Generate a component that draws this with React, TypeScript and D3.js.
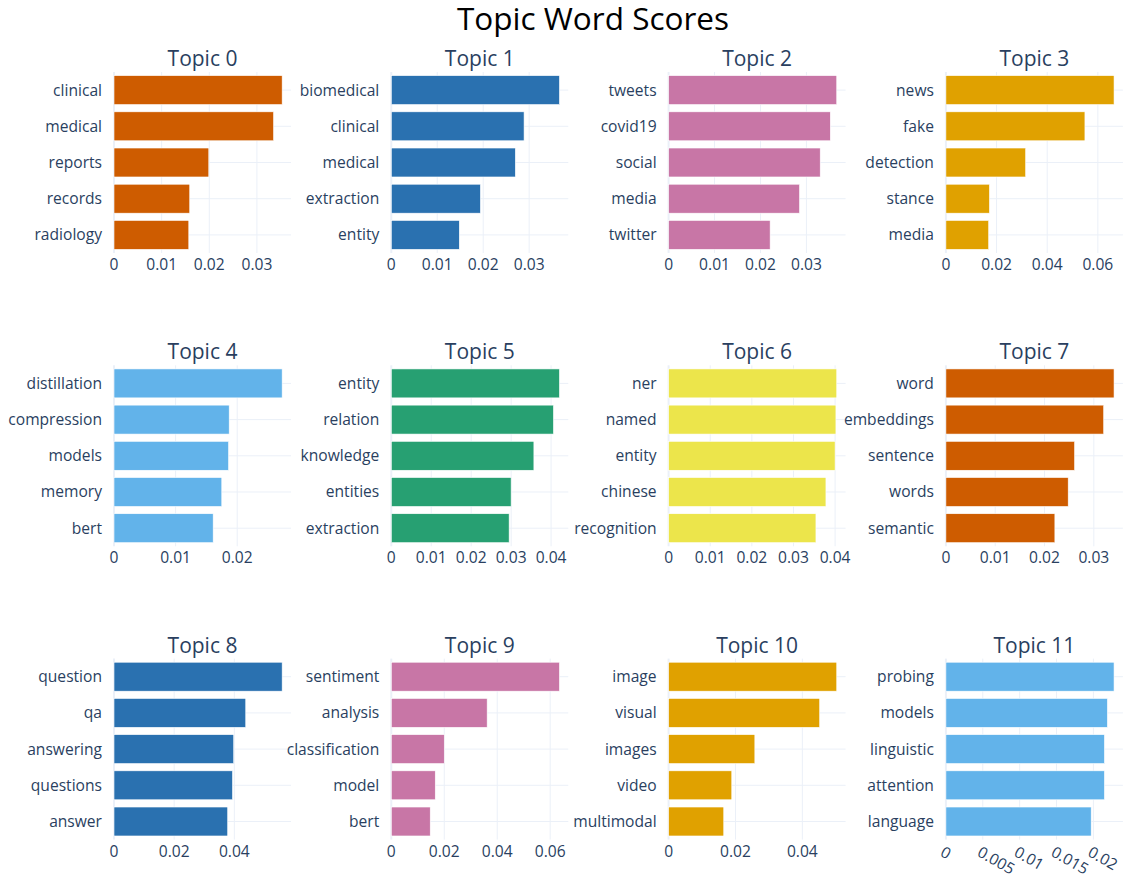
import React, { useEffect, useRef } from 'react';
import * as d3 from 'd3';

const topics = ['Topic 0', 'Topic 1', 'Topic 2', 'Topic 3', 'Topic 4', 'Topic 5',
  'Topic 6', 'Topic 7', 'Topic 8', 'Topic 9', 'Topic 10', 'Topic 11'];

// words per topic, top bar first
const words = [
  ['clinical', 'medical', 'reports', 'records', 'radiology'],
  ['biomedical', 'clinical', 'medical', 'extraction', 'entity'],
  ['tweets', 'covid19', 'social', 'media', 'twitter'],
  ['news', 'fake', 'detection', 'stance', 'media'],
  ['distillation', 'compression', 'models', 'memory', 'bert'],
  ['entity', 'relation', 'knowledge', 'entities', 'extraction'],
  ['ner', 'named', 'entity', 'chinese', 'recognition'],
  ['word', 'embeddings', 'sentence', 'words', 'semantic'],
  ['question', 'qa', 'answering', 'questions', 'answer'],
  ['sentiment', 'analysis', 'classification', 'model', 'bert'],
  ['image', 'visual', 'images', 'video', 'multimodal'],
  ['probing', 'models', 'linguistic', 'attention', 'language'],
];

const scores = [
  [0.0353, 0.0335, 0.0199, 0.0159, 0.0157],
  [0.0366, 0.0289, 0.0270, 0.0194, 0.0148],
  [0.0366, 0.0352, 0.0330, 0.0285, 0.0221],
  [0.0664, 0.0549, 0.0315, 0.0172, 0.0169],
  [0.0273, 0.0187, 0.0186, 0.0175, 0.0161],
  [0.0421, 0.0406, 0.0357, 0.0300, 0.0295],
  [0.0404, 0.0402, 0.0400, 0.0378, 0.0354],
  [0.0341, 0.0320, 0.0261, 0.0248, 0.0221],
  [0.0559, 0.0438, 0.0398, 0.0394, 0.0378],
  [0.0635, 0.0362, 0.0200, 0.0166, 0.0147],
  [0.0503, 0.0452, 0.0258, 0.0189, 0.0165],
  [0.0228, 0.0219, 0.0215, 0.0215, 0.0197],
];

const tickSteps = [0.01, 0.01, 0.01, 0.02, 0.01, 0.01, 0.01, 0.01, 0.02, 0.02, 0.02, 0.005];

const palette = ['#CE5C00', '#2A71B0', '#C876A6', '#E0A100', '#62B3EA', '#27A072', '#ECE54B'];

const W = 1123;
const H = 876;
const left0 = 114;
const colStep = 277.3;
const top0 = 72;
const rowStep = 293.3;
const plotW = 177;
const plotH = 181;
const FONT = '"Open Sans", verdana, arial, sans-serif';
const TEXT = '#2a3f5f';
const GRID = '#EBF0F8';

export default function App() {
  const ref = useRef<SVGSVGElement>(null);

  useEffect(() => {
    const svg = d3.select(ref.current);
    svg.selectAll('*').remove();

    svg.append('rect').attr('width', W).attr('height', H).attr('fill', '#fff');

    svg.append('text')
      .attr('x', 593)
      .attr('y', 30)
      .attr('text-anchor', 'middle')
      .attr('font-family', FONT)
      .attr('font-size', 31.5)
      .attr('fill', '#000')
      .text('Topic Word Scores');

    topics.forEach((name, t) => {
      const col = t % 4;
      const row = Math.floor(t / 4);
      const x0 = left0 + col * colStep;
      const y0 = top0 + row * rowStep;
      const vals = scores[t];
      const maxV = d3.max(vals) as number;

      const x = d3.scaleLinear().domain([0, maxV * 1.0526]).range([0, plotW]);
      const y = d3.scaleBand<string>()
        .domain(words[t])
        .range([0, plotH])
        .paddingInner(0.2)
        .paddingOuter(0.1);

      const g = svg.append('g').attr('transform', `translate(${x0},${y0})`);

      const step = tickSteps[t];
      const ticks = d3.range(0, maxV * 1.0526 + 1e-9, step);
      const fmt = d3.format('~g');

      // horizontal grid at categories
      g.selectAll('line.hgrid')
        .data(words[t])
        .enter()
        .append('line')
        .attr('x1', 0)
        .attr('x2', plotW)
        .attr('y1', (d) => (y(d) as number) + y.bandwidth() / 2)
        .attr('y2', (d) => (y(d) as number) + y.bandwidth() / 2)
        .attr('stroke', GRID)
        .attr('stroke-width', 1);

      // vertical grid
      g.selectAll('line.vgrid')
        .data(ticks)
        .enter()
        .append('line')
        .attr('x1', (d) => x(d))
        .attr('x2', (d) => x(d))
        .attr('y1', 0)
        .attr('y2', plotH)
        .attr('stroke', GRID)
        .attr('stroke-width', (d, i) => (i === 0 ? 2 : 1));

      g.selectAll('rect.bar')
        .data(vals)
        .enter()
        .append('rect')
        .attr('x', x(0))
        .attr('y', (d, i) => y(words[t][i]) as number)
        .attr('width', (d) => x(d) - x(0))
        .attr('height', y.bandwidth())
        .attr('fill', palette[t % palette.length])
        .attr('stroke', '#fff')
        .attr('stroke-width', 0.6);

      // y labels
      g.selectAll('text.ylab')
        .data(words[t])
        .enter()
        .append('text')
        .attr('x', -12)
        .attr('y', (d) => (y(d) as number) + y.bandwidth() / 2)
        .attr('dy', '0.35em')
        .attr('text-anchor', 'end')
        .attr('font-family', FONT)
        .attr('font-size', 15.6)
        .attr('fill', TEXT)
        .text((d) => d);

      // x labels
      const rotate = t === 11;
      g.selectAll('text.xlab')
        .data(ticks)
        .enter()
        .append('text')
        .attr('transform', (d) => rotate
          ? `translate(${x(d) - 1},${plotH + 6}) rotate(30)`
          : `translate(${x(d)},${plotH + 17})`)
        .attr('dy', rotate ? '0.71em' : 0)
        .attr('text-anchor', rotate ? 'start' : 'middle')
        .attr('font-family', FONT)
        .attr('font-size', 15.6)
        .attr('fill', TEXT)
        .text((d) => fmt(d));

      g.append('text')
        .attr('x', plotW / 2)
        .attr('y', -6)
        .attr('text-anchor', 'middle')
        .attr('font-family', FONT)
        .attr('font-size', 21)
        .attr('fill', TEXT)
        .text(name);
    });
  }, []);

  return (
    <svg ref={ref} width={W} height={H}
      style={{ position: 'absolute', left: 0, top: 0 }} />
  );
}
